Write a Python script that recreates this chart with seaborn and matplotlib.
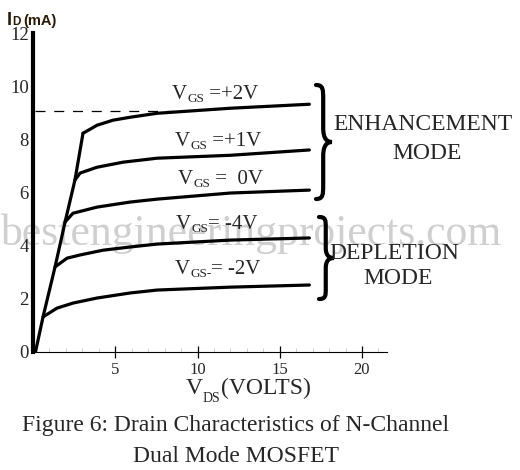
import matplotlib
matplotlib.use("Agg")
import matplotlib.pyplot as plt
from matplotlib.path import Path
from matplotlib.patches import PathPatch
import numpy as np
import pandas as pd
import seaborn as sns

# ---------------- data ----------------
vgs_labels = ["+2V", "+1V", "0V", "-4V", "-2V"]
label_main = ["V", "V", "V", "V", "V"]
label_sub = ["GS", "GS", "GS", "GS", "GS-"]
label_rest = [" =+2V", " =+1V", " =  0V", "= -4V", "= -2V"]

vds_p2 = [3.04, 3.16, 3.89, 4.86, 5.90, 7.54, 12.0, 16.8]
id_p2 = [8.23, 8.27, 8.53, 8.72, 8.83, 8.98, 9.17, 9.32]
vds_p1 = [2.55, 2.86, 3.89, 5.47, 7.54, 12.0, 16.8]
id_p1 = [6.47, 6.73, 6.95, 7.14, 7.29, 7.40, 7.60]
vds_0 = [1.95, 2.43, 3.89, 5.90, 7.54, 12.0, 16.8]
id_0 = [4.89, 5.22, 5.45, 5.64, 5.75, 5.98, 6.09]
vds_m4 = [1.34, 2.07, 2.86, 4.26, 5.90, 7.54, 12.0, 16.8]
id_m4 = [3.20, 3.53, 3.65, 3.83, 3.95, 4.06, 4.21, 4.29]
vds_m2 = [0.61, 1.46, 2.43, 3.89, 5.90, 7.54, 12.0, 16.8]
id_m2 = [1.32, 1.65, 1.84, 2.03, 2.22, 2.33, 2.44, 2.52]

# ohmic-region boundary line through the knees
vds_b = [0.15, 0.61, 1.34, 1.95, 2.55, 3.04]
id_b = [0.00, 1.32, 3.20, 4.89, 6.47, 8.23]

# dashed reference level
dash_vds = [0.1, 8.6]
dash_id = [9.06, 9.06]

# label anchor positions (data coords, left/baseline)
label_x = [8.45, 8.63, 8.81, 8.69, 8.63]
label_y = [9.51, 7.74, 6.32, 4.62, 2.93]

xticks = [5, 10, 15, 20]
yticks = [0, 2, 4, 6, 8, 10, 12]

# ---------------- build table ----------------
curves = [(vds_p2, id_p2), (vds_p1, id_p1), (vds_0, id_0), (vds_m4, id_m4), (vds_m2, id_m2)]
rows = []
for lab, (xs, ys) in zip(vgs_labels, curves):
    for x, y in zip(xs, ys):
        rows.append({"VDS": x, "ID": y, "VGS": lab})
for x, y in zip(vds_b, id_b):
    rows.append({"VDS": x, "ID": y, "VGS": "boundary"})
df = pd.DataFrame(rows)

# ---------------- style ----------------
sns.set_theme(style="white")
plt.rcParams["font.family"] = ["Liberation Serif", "DejaVu Serif"]

W, H = 520, 470
fig = plt.figure(figsize=(W / 100, H / 100), dpi=100)
fig.patch.set_facecolor("white")

def fx(px):
    return px / W

def fy(py):
    return 1 - py / H

ax = fig.add_axes([fx(33), fy(352), (387 - 33) / W, (352 - 33) / H])
ax.patch.set_visible(False)

# watermark (below everything)
fig.text(fx(0), fy(245), "bestengineeringprojects.com", fontsize=31.5, color="#cfcfcf",
         ha="left", va="baseline", zorder=-5)

palette = {k: "black" for k in vgs_labels + ["boundary"]}
sns.lineplot(data=df, x="VDS", y="ID", hue="VGS", palette=palette, estimator=None,
             sort=False, legend=False, linewidth=2.3, ax=ax, zorder=3)
for ln in ax.get_lines():
    ln.set_solid_capstyle("round")
    ln.set_solid_joinstyle("round")

sns.lineplot(x=dash_vds, y=dash_id, color="black", linewidth=0.9, ax=ax,
             dashes=False, zorder=2)
ax.get_lines()[-1].set_dashes([8, 7])

ax.set_xlim(0, 354 / 16.45)
ax.set_ylim(0, 12)

for s in ["top", "right"]:
    ax.spines[s].set_visible(False)
ax.spines["left"].set_linewidth(3.0)
ax.spines["left"].set_color("black")
ax.spines["bottom"].set_linewidth(0.8)
ax.spines["bottom"].set_color("black")

ax.set_xticks(xticks)
ax.set_xticklabels([str(t) for t in xticks])
ax.set_xticks([v for v in range(1, 22) if v % 5 != 0], minor=True)
ax.tick_params(axis="x", which="major", direction="inout", length=9, width=0.9,
               color="black", labelsize=12, pad=3, bottom=True)
ax.tick_params(axis="x", which="minor", direction="in", length=3, width=0.6,
               color="#c8c8c8", bottom=True)
ax.set_yticks(yticks)
ax.set_yticklabels([str(t) for t in yticks])
ax.tick_params(axis="y", which="major", length=0, labelsize=13.5, pad=3, left=True)
ax.set_xlabel("")
ax.set_ylabel("")


def sub_label(x, y, main, sub, rest, size, subsize, drop, transform):
    t1 = ax.text(x, y, main, fontsize=size, ha="left", va="baseline",
                 transform=transform, zorder=4)
    t2 = ax.annotate(sub, xy=(1, 0), xycoords=t1, xytext=(0, -drop),
                     textcoords="offset points", fontsize=subsize,
                     ha="left", va="bottom", zorder=4)
    ax.annotate(rest, xy=(1, 0), xycoords=(t2, t1), xytext=(0, 0),
                textcoords="offset points", fontsize=size,
                ha="left", va="bottom", zorder=4)


for m, s, r, x, y in zip(label_main, label_sub, label_rest, label_x, label_y):
    sub_label(x, y, m, s, r, 15, 9.5, 0.8, ax.transData)

# y-axis title
fig.text(fx(7), fy(25), "I", fontsize=13, fontweight="bold", family="Liberation Sans",
         color="#2a1a05", ha="left", va="baseline")
fig.text(fx(12), fy(25), "D", fontsize=8.5, fontweight="bold", family="Liberation Sans",
         color="#2a1a05", ha="left", va="baseline")
fig.text(fx(23), fy(25), "(mA)", fontsize=10.5, fontweight="bold", family="Liberation Sans",
         color="#2a1a05", ha="left", va="baseline")

# x-axis title
sub_label(fx(186), fy(394), "V", "DS", "(VOLTS)", 17, 10, 4.5, fig.transFigure)

# caption
fig.text(fx(236), fy(431), "Figure 6: Drain Characteristics of N-Channel", fontsize=17,
         ha="center", va="baseline")
fig.text(fx(236), fy(462), "Dual Mode MOSFET", fontsize=17, ha="center", va="baseline")

# mode annotations
fig.text(fx(423), fy(130), "ENHANCEMENT", fontsize=17, ha="center", va="baseline")
fig.text(fx(427), fy(159), "MODE", fontsize=17, ha="center", va="baseline")
fig.text(fx(394), fy(259), "DEPLETION", fontsize=17, ha="center", va="baseline")
fig.text(fx(398), fy(284), "MODE", fontsize=17, ha="center", va="baseline")


def brace(x, y0, y1, w):
    ym = (y0 + y1) / 2
    h = (y1 - y0) / 2
    a = x + w * 0.45
    pts = [
        (x, y0),
        (a, y0), (a, y0 + 0.08 * h), (a, y0 + 0.25 * h),
        (a, ym - 0.25 * h),
        (a, ym - 0.05 * h), (x + w * 0.7, ym), (x + w, ym),
        (x + w * 0.7, ym), (a, ym + 0.05 * h), (a, ym + 0.25 * h),
        (a, y1 - 0.25 * h),
        (a, y1 - 0.08 * h), (a, y1), (x, y1),
    ]
    codes = [Path.MOVETO,
             Path.CURVE4, Path.CURVE4, Path.CURVE4,
             Path.LINETO,
             Path.CURVE4, Path.CURVE4, Path.CURVE4,
             Path.CURVE4, Path.CURVE4, Path.CURVE4,
             Path.LINETO,
             Path.CURVE4, Path.CURVE4, Path.CURVE4]
    verts = [(fx(px), fy(py)) for px, py in pts]
    patch = PathPatch(Path(verts, codes), facecolor="none", edgecolor="black",
                      linewidth=3.0, transform=fig.transFigure, capstyle="round")
    fig.patches.append(patch)


brace(316, 85, 199, 16)
brace(319, 217, 299, 15)

fig.savefig("out.png", dpi=100, facecolor="white")
